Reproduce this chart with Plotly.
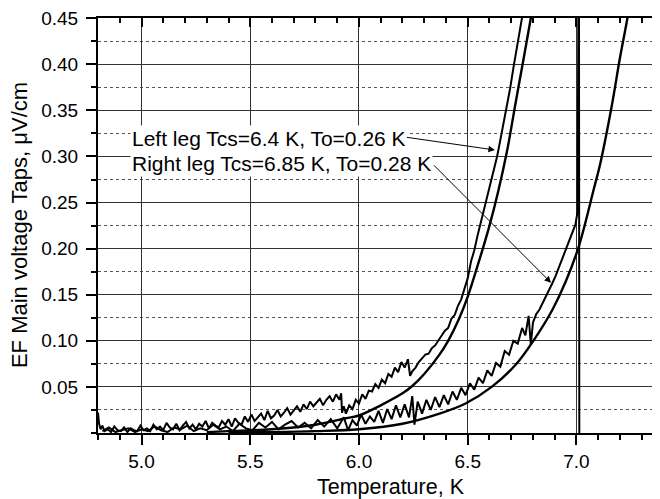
import plotly.graph_objects as go

# ---- data ----
left_T = [4.800, 4.805, 4.812, 4.82, 4.83, 4.845, 4.86, 4.875, 4.89, 4.905, 4.92, 4.935, 4.95, 4.965, 4.98, 4.995,
          5.01, 5.025, 5.04, 5.055, 5.07, 5.085, 5.10, 5.115, 5.13, 5.145, 5.16, 5.175, 5.19, 5.205, 5.22, 5.235,
          5.25, 5.265, 5.28, 5.295, 5.31, 5.325, 5.34, 5.355, 5.37, 5.385, 5.40, 5.415, 5.43, 5.445, 5.46, 5.475,
          5.49, 5.505, 5.52, 5.535, 5.55, 5.565, 5.58, 5.595, 5.61, 5.625, 5.64, 5.655, 5.67, 5.685, 5.70, 5.715,
          5.73, 5.745, 5.76, 5.775, 5.79, 5.805, 5.82, 5.835, 5.85, 5.865, 5.88, 5.895, 5.91, 5.918, 5.922, 5.93,
          5.94, 5.955, 5.97, 5.985, 6.00, 6.015, 6.03, 6.045, 6.06, 6.075, 6.09, 6.105, 6.12, 6.135, 6.15, 6.165,
          6.18, 6.195, 6.21, 6.225, 6.235, 6.245, 6.26, 6.275, 6.29, 6.305, 6.32, 6.335, 6.35, 6.365, 6.38, 6.395,
          6.41, 6.425, 6.44, 6.455, 6.47, 6.485, 6.50, 6.515, 6.53, 6.545, 6.56, 6.575, 6.59, 6.605, 6.62, 6.635,
          6.65, 6.665, 6.68, 6.695, 6.71, 6.725, 6.74, 6.755]
left_E = [0.022, 0.010, 0.004, 0.008, 0.002, 0.004, 0.001, 0.007, 0.003, 0.002, 0.006, 0.001, 0.005, 0.003, 0.002, 0.008,
          0.003, 0.005, 0.002, 0.009, 0.004, 0.007, 0.003, 0.011, 0.006, 0.004, 0.010, 0.003, 0.008, 0.012, 0.005, 0.009,
          0.004, 0.010, 0.007, 0.013, 0.005, 0.011, 0.008, 0.006, 0.013, 0.009, 0.015, 0.007, 0.016, 0.011, 0.009, 0.018,
          0.012, 0.020, 0.013, 0.017, 0.021, 0.014, 0.024, 0.016, 0.019, 0.025, 0.018, 0.022, 0.027, 0.020, 0.024, 0.029,
          0.023, 0.031, 0.026, 0.034, 0.029, 0.033, 0.037, 0.030, 0.036, 0.040, 0.034, 0.042, 0.036, 0.043, 0.022, 0.029,
          0.021, 0.030, 0.026, 0.036, 0.032, 0.042, 0.037, 0.046, 0.045, 0.053, 0.049, 0.058, 0.054, 0.064, 0.061, 0.071,
          0.066, 0.077, 0.071, 0.080, 0.062, 0.067, 0.071, 0.077, 0.081, 0.085, 0.086, 0.092, 0.095, 0.100, 0.105, 0.111,
          0.114, 0.124, 0.128, 0.138, 0.145, 0.158, 0.168, 0.186, 0.198, 0.214, 0.228, 0.244, 0.256, 0.270, 0.284, 0.300,
          0.318, 0.336, 0.356, 0.374, 0.396, 0.416, 0.436, 0.458]

right_T = [4.82, 4.85, 4.88, 4.91, 4.94, 4.97, 5.00, 5.03, 5.06, 5.09, 5.12, 5.15, 5.18, 5.21, 5.24, 5.27, 5.30,
           5.33, 5.36, 5.39, 5.42, 5.45, 5.48, 5.51, 5.54, 5.57, 5.60, 5.63, 5.66, 5.69, 5.72, 5.75, 5.78, 5.81,
           5.84, 5.87, 5.90, 5.93, 5.95, 5.97, 5.99, 6.01, 6.03, 6.05, 6.07, 6.09, 6.11, 6.13, 6.15, 6.17, 6.19,
           6.21, 6.23, 6.245, 6.255, 6.27, 6.29, 6.31, 6.33, 6.35, 6.37, 6.39, 6.41, 6.43, 6.45, 6.47, 6.49, 6.51,
           6.53, 6.55, 6.57, 6.59, 6.61, 6.63, 6.65, 6.67, 6.69, 6.71, 6.73, 6.75, 6.765, 6.78, 6.79, 6.80, 6.815,
           6.83, 6.845, 6.86, 6.875, 6.89, 6.905, 6.92, 6.935, 6.95, 6.965, 6.98, 6.995, 7.005, 7.011, 7.013]
right_E = [0.002, 0.006, 0.001, 0.003, 0.005, 0.001, 0.004, 0.002, 0.007, 0.003, 0.001, 0.006, 0.004, 0.008, 0.002, 0.005, 0.003,
           0.009, 0.004, 0.007, 0.002, 0.010, 0.005, 0.003, 0.011, 0.006, 0.012, 0.004, 0.009, 0.013, 0.006, 0.011, 0.005, 0.014,
           0.007, 0.015, 0.005, 0.017, 0.003, 0.014, 0.008, 0.020, 0.010, 0.018, 0.012, 0.024, 0.011, 0.026, 0.015, 0.030, 0.017,
           0.031, 0.017, 0.040, 0.009, 0.034, 0.021, 0.036, 0.025, 0.039, 0.028, 0.041, 0.031, 0.045, 0.036, 0.049, 0.041, 0.054,
           0.047, 0.060, 0.054, 0.068, 0.062, 0.076, 0.072, 0.089, 0.085, 0.100, 0.097, 0.114, 0.106, 0.127, 0.096, 0.120, 0.129,
           0.134, 0.141, 0.148, 0.156, 0.163, 0.171, 0.180, 0.188, 0.197, 0.206, 0.215, 0.226, 0.240, 0.600, 0.000]

fitL_T = [5.30, 5.40, 5.60, 5.80, 5.94, 6.00, 6.10, 6.20, 6.245, 6.30, 6.37, 6.41, 6.46, 6.50, 6.55, 6.60, 6.64, 6.68, 6.72, 6.76, 6.79, 6.81]
fitL_E = [0.001, 0.002, 0.004, 0.009, 0.016, 0.019, 0.030, 0.043, 0.051, 0.064, 0.085, 0.100, 0.124, 0.148, 0.185, 0.225, 0.262, 0.305, 0.358, 0.410, 0.450, 0.480]

fitR_T = [5.40, 5.60, 5.80, 6.00, 6.20, 6.37, 6.49, 6.61, 6.72, 6.81, 6.89, 6.95, 7.01, 7.08, 7.11, 7.16, 7.20, 7.234, 7.26]
fitR_E = [0.0005, 0.001, 0.002, 0.004, 0.010, 0.021, 0.032, 0.050, 0.074, 0.103, 0.134, 0.164, 0.202, 0.265, 0.293, 0.352, 0.407, 0.450, 0.490]

x_ticks = [5.0, 5.5, 6.0, 6.5, 7.0]
y_ticks = [0.05, 0.10, 0.15, 0.20, 0.25, 0.30, 0.35, 0.40, 0.45]

label_left = "Left leg Tcs=6.4 K, To=0.26 K"
label_right = "Right leg Tcs=6.85 K, To=0.28 K"

FONT = "Liberation Sans, Arial, sans-serif"

fig = go.Figure()
fig.add_trace(go.Scatter(x=left_T, y=left_E, mode="lines", line=dict(color="black", width=2),
                         showlegend=False, hoverinfo="skip"))
fig.add_trace(go.Scatter(x=right_T, y=right_E, mode="lines", line=dict(color="black", width=2),
                         showlegend=False, hoverinfo="skip"))
fig.add_trace(go.Scatter(x=fitL_T, y=fitL_E, mode="lines", line=dict(color="black", width=2.4, shape="spline"),
                         showlegend=False, hoverinfo="skip"))
fig.add_trace(go.Scatter(x=fitR_T, y=fitR_E, mode="lines", line=dict(color="black", width=2.4, shape="spline"),
                         showlegend=False, hoverinfo="skip"))
# empty trace to activate the mirrored top axis
fig.add_trace(go.Scatter(x=[], y=[], xaxis="x2", yaxis="y", showlegend=False, hoverinfo="skip"))

XR = [4.8, 7.384]
YR = [0, 0.4502]
# page body has an 8px margin, so the figure is 652x491 and margins are shifted by 8px
fig.update_layout(
    width=652, height=491,
    margin=dict(l=90, r=0, t=8, b=66),
    paper_bgcolor="white", plot_bgcolor="white",
    font=dict(family=FONT, size=19, color="black"),
    xaxis=dict(range=XR, tickmode="array", tickvals=x_ticks, ticktext=[f"{v:.1f}" for v in x_ticks],
               ticks="outside", ticklen=10, tickwidth=1.5, tickcolor="black",
               showline=True, linewidth=2, linecolor="black",
               showgrid=True, gridcolor="#333", gridwidth=1,
               zeroline=False, ticklabelstandoff=0,
               minor=dict(tick0=4.8, dtick=0.1, ticks="outside", ticklen=5, tickwidth=1.5,
                          tickcolor="black", showgrid=False)),
    xaxis2=dict(range=XR, overlaying="x", side="top", tickmode="array", tickvals=x_ticks,
                ticks="inside", ticklen=9, tickwidth=1.5, tickcolor="black", showticklabels=False,
                showline=True, linewidth=2, linecolor="black", showgrid=False, zeroline=False,
                minor=dict(tick0=4.8, dtick=0.1, ticks="inside", ticklen=5, tickwidth=1.5,
                           tickcolor="black", showgrid=False)),
    yaxis=dict(range=YR, tickmode="array", tickvals=y_ticks, ticktext=[f"{v:.2f}" for v in y_ticks],
               ticks="outside", ticklen=10, tickwidth=1.5, tickcolor="black",
               showline=True, linewidth=2, linecolor="black",
               showgrid=True, gridcolor="#333", gridwidth=1,
               zeroline=False, ticklabelstandoff=4, ticklabeloverflow="allow",
               minor=dict(tick0=0, dtick=0.025, ticks="outside", ticklen=5, tickwidth=1.5,
                          tickcolor="black", showgrid=True, gridcolor="#555", griddash="dot", gridwidth=1)),
)

ann = []
ann.append(dict(text=label_left, x=4.945, y=0.319, xref="x", yref="y", xanchor="left", yanchor="middle",
                showarrow=False, bgcolor="white", font=dict(size=21), borderpad=1))
ann.append(dict(text=label_right, x=4.945, y=0.292, xref="x", yref="y", xanchor="left", yanchor="middle",
                showarrow=False, bgcolor="white", font=dict(size=21), borderpad=1))
ann.append(dict(text="", x=6.625, y=0.307, ax=6.213, ay=0.321, xref="x", yref="y", axref="x", ayref="y",
                showarrow=True, arrowhead=2, arrowsize=1.3, arrowwidth=1, arrowcolor="black", standoff=0))
ann.append(dict(text="", x=6.883, y=0.163, ax=6.338, ay=0.292, xref="x", yref="y", axref="x", ayref="y",
                showarrow=True, arrowhead=2, arrowsize=1.3, arrowwidth=1, arrowcolor="black", standoff=0))
ann.append(dict(text="Temperature, K", x=0.521, y=-0.1295, xref="paper", yref="paper",
                xanchor="center", yanchor="middle", showarrow=False, font=dict(size=21.5)))
ann.append(dict(text="EF Main voltage Taps, \u03bcV/cm", x=-0.1406, y=0.501, xref="paper", yref="paper",
                xanchor="center", yanchor="middle", showarrow=False, textangle=-90, font=dict(size=22)))
fig.update_layout(annotations=ann)

fig.write_html("out.html")
